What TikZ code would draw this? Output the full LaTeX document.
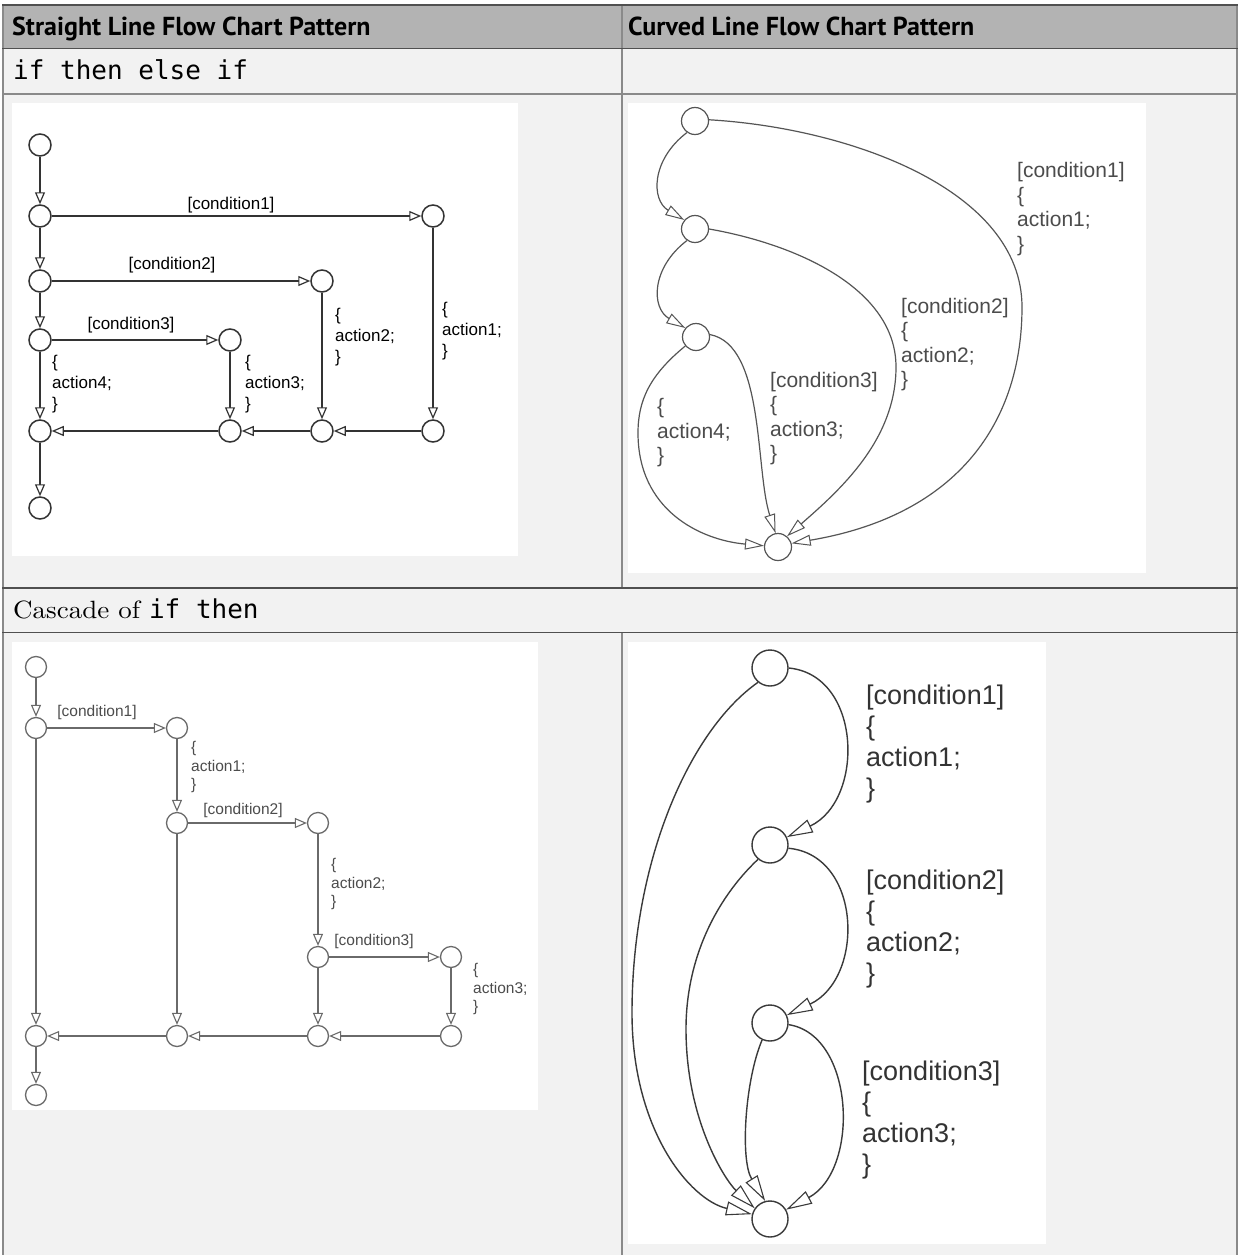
\documentclass[tikz,border=0pt]{standalone}
\usepackage{fontspec}
\newfontfamily\labfont{Liberation Sans}
\newfontfamily\hdrfont{PT Sans}
\newfontfamily\monofont{DejaVu Sans Mono}
\newfontfamily\widerm[Extension=.otf, FakeStretch=1.08]{lmroman10-regular}
\usetikzlibrary{arrows.meta}
\definecolor{hdrgray}{HTML}{B3B3B3}
\definecolor{rowgray}{HTML}{F2F2F2}
\definecolor{rulegray}{HTML}{8A8A8A}
\definecolor{ruledark}{HTML}{505050}
\definecolor{lineA}{HTML}{333333}
\definecolor{lineB}{HTML}{555555}
\definecolor{lineC}{HTML}{6A6A6A}
\definecolor{lineD}{HTML}{3A3A3A}
\begin{document}
\begin{tikzpicture}[x=1pt,y=-1pt,
  cA/.style={circle, draw=lineA, line width=1.5pt, minimum size=22pt, inner sep=0pt, fill=white},
  eA/.style={draw=lineA, line width=1.6pt, -{Triangle[length=12pt,width=10pt,fill=white,line width=1.2pt]}},
  cB/.style={circle, draw=lineB, line width=1.2pt, minimum size=27pt, inner sep=0pt, fill=white},
  eB/.style={draw=lineB, line width=1.2pt, -{Triangle[length=19pt,width=11pt,fill=white,line width=1pt]}},
  cC/.style={circle, draw=lineC, line width=1.3pt, minimum size=21pt, inner sep=0pt, fill=white},
  eC/.style={draw=lineC, line width=1.5pt, -{Triangle[length=12pt,width=10pt,fill=white,line width=1.1pt]}},
  cD/.style={circle, draw=lineD, line width=1.4pt, minimum size=36pt, inner sep=0pt, fill=white},
  eD/.style={draw=lineD, line width=1.4pt, -{Triangle[length=26pt,width=14pt,fill=white,line width=1.1pt]}},
  labA/.style={font=\labfont\fontsize{17}{21}\selectfont, text=black, inner sep=0pt, align=left},
  labB/.style={font=\labfont\fontsize{21}{24.5}\selectfont, text=black!70, inner sep=0pt, align=left},
  labC/.style={font=\labfont\fontsize{15.5}{18.5}\selectfont, text=black!70, inner sep=0pt, align=left},
  labD/.style={font=\labfont\fontsize{27}{31}\selectfont, text=black!80, inner sep=0pt, align=left},
  hdr/.style={font=\hdrfont\bfseries\fontsize{26}{30}\selectfont, text=black, inner sep=0pt, anchor=base west},
]
\useasboundingbox (0,0) rectangle (1238,1255);
\fill[white] (0,0) rectangle (1238,1255);
\fill[hdrgray] (2,5) rectangle (1238,49);
\fill[rowgray] (2,49) rectangle (1238,1255);
\fill[white] (12,103) rectangle (518,556);
\fill[white] (628,103) rectangle (1146,573);
\fill[white] (12,642) rectangle (538,1110);
\fill[white] (628,642) rectangle (1046,1244);
% table rules
\draw[rulegray, line width=2pt] (622,5) -- (622,588);
\draw[rulegray, line width=2pt] (622,633) -- (622,1255);
\draw[rulegray, line width=2pt] (2.5,5) -- (2.5,1255);
\draw[rulegray, line width=2pt] (1237,5) -- (1237,1255);
\draw[ruledark, line width=1.5pt] (2,5) -- (1238,5);
\draw[ruledark, line width=1pt] (2,49) -- (1238,49);
\draw[rulegray, line width=2pt] (2,93.5) -- (1238,93.5);
\draw[ruledark, line width=1.5pt] (2,588) -- (1238,588);
\draw[ruledark, line width=1.5pt] (2,632.5) -- (1238,632.5);
% texts of table
\node[hdr] (h1) at (12,35.5) {Straight Line Flow Chart Pattern};
\node[hdr] (h2) at (628,35.5) {Curved Line Flow Chart Pattern};
\node[anchor=base west, inner sep=0pt, font=\monofont\fontsize{26}{30}\selectfont] (t2) at (13,80) {if then else if};
\node[anchor=base west, inner sep=0pt, font=\widerm\fontsize{25}{30}\selectfont] (t4) at (13,618) {Cascade of {\monofont\fontsize{26}{30}\selectfont if then}};
% ---------- Panel A
\node[cA] (a0) at (40,145) {};
\node[cA] (a1) at (40,216) {};
\node[cA] (a2) at (40,281) {};
\node[cA] (a3) at (40,340) {};
\node[cA] (a4) at (40,431) {};
\node[cA] (a5) at (40,508) {};
\node[cA] (ar1) at (433,216) {};
\node[cA] (ar2) at (322,281) {};
\node[cA] (ar3) at (230,340) {};
\node[cA] (am3) at (230,431) {};
\node[cA] (am2) at (322,431) {};
\node[cA] (am1) at (433,431) {};
\draw[eA] (a0) -- (a1);
\draw[eA] (a1) -- (a2);
\draw[eA] (a2) -- (a3);
\draw[eA] (a3) -- (a4);
\draw[eA] (a4) -- (a5);
\draw[eA] (a1) -- (ar1);
\draw[eA] (a2) -- (ar2);
\draw[eA] (a3) -- (ar3);
\draw[eA] (ar1) -- (am1);
\draw[eA] (ar2) -- (am2);
\draw[eA] (ar3) -- (am3);
\draw[eA] (am1) -- (am2);
\draw[eA] (am2) -- (am3);
\draw[eA] (am3) -- (a4);
\node[labA] (lac1) at (231,205) {[condition1]};
\node[labA] (lac2) at (172,265) {[condition2]};
\node[labA] (lac3) at (131,325) {[condition3]};
\node[labA, anchor=west] (laa1) at (442,331) {\{\\action1;\\\}};
\node[labA, anchor=west] (laa2) at (335,337) {\{\\action2;\\\}};
\node[labA, anchor=west] (laa3) at (245,384) {\{\\action3;\\\}};
\node[labA, anchor=west] (laa4) at (52,384) {\{\\action4;\\\}};
% ---------- Panel B
\node[cB] (b1) at (695,121) {};
\node[cB] (b2) at (695,229) {};
\node[cB] (b3) at (696,337) {};
\node[cB] (b4) at (778,547) {};
\draw[eB] (b1.235) .. controls (651,160) and (651,200) .. (b2.140);
\draw[eB] (b2.235) .. controls (651,268) and (651,308) .. (b3.140);
\draw[eB] (b1.5) .. controls (850,128) and (1022,190) .. (1022,307) .. controls (1022,420) and (960,515) .. (b4.15);
\draw[eB] (b2.0) .. controls (800,245) and (896,290) .. (896,367) .. controls (896,440) and (840,490) .. (b4.50);
\draw[eB] (b3.10) .. controls (765,345) and (755,470) .. (b4.100);
\draw[eB] (b3.220) .. controls (650,375) and (638,400) .. (638,433) .. controls (638,510) and (700,540) .. (b4.175);
\node[labB, anchor=west] (lb1) at (1017,209) {[condition1]\\\{\\action1;\\\}};
\node[labB, anchor=west] (lb2) at (901,344.5) {[condition2]\\\{\\action2;\\\}};
\node[labB, anchor=west] (lb3) at (770,418.5) {[condition3]\\\{\\action3;\\\}};
\node[labB, anchor=west] (lb4) at (657,433) {\{\\action4;\\\}};
% ---------- Panel C
\node[cC] (c0) at (36,667) {};
\node[cC] (c1) at (36,728) {};
\node[cC] (ca1) at (177,728) {};
\node[cC] (c2) at (177,823) {};
\node[cC] (ca2) at (318,823) {};
\node[cC] (c3) at (318,957) {};
\node[cC] (ca3) at (451,957) {};
\node[cC] (cm0) at (36,1036) {};
\node[cC] (cm1) at (177,1036) {};
\node[cC] (cm2) at (318,1036) {};
\node[cC] (cm3) at (451,1036) {};
\node[cC] (cend) at (36,1095) {};
\draw[eC] (c0) -- (c1);
\draw[eC] (c1) -- (ca1);
\draw[eC] (ca1) -- (c2);
\draw[eC] (c2) -- (ca2);
\draw[eC] (ca2) -- (c3);
\draw[eC] (c3) -- (ca3);
\draw[eC] (ca3) -- (cm3);
\draw[eC] (c1) -- (cm0);
\draw[eC] (c2) -- (cm1);
\draw[eC] (c3) -- (cm2);
\draw[eC] (cm3) -- (cm2);
\draw[eC] (cm2) -- (cm1);
\draw[eC] (cm1) -- (cm0);
\draw[eC] (cm0) -- (cend);
\node[labC] (lcc1) at (97,712) {[condition1]};
\node[labC, anchor=west] (lca1) at (191,767) {\{\\action1;\\\}};
\node[labC] (lcc2) at (243,810) {[condition2]};
\node[labC, anchor=west] (lca2) at (331,884) {\{\\action2;\\\}};
\node[labC] (lcc3) at (374,941) {[condition3]};
\node[labC, anchor=west] (lca3) at (473,989) {\{\\action3;\\\}};
% ---------- Panel D
\node[cD] (d0) at (770,668) {};
\node[cD] (d1) at (770,845) {};
\node[cD] (d2) at (770,1023) {};
\node[cD] (d3) at (770,1219) {};
\draw[eD] (d0.0) .. controls (862,675) and (865,800) .. (d1.25);
\draw[eD] (d1.350) .. controls (862,855) and (865,978) .. (d2.25);
\draw[eD] (d2.355) .. controls (855,1035) and (860,1170) .. (d3.30);
\draw[eD] (d0.230) .. controls (690,730) and (632,860) .. (632,1013) .. controls (632,1130) and (690,1200) .. (d3.165);
\draw[eD] (d1.230) .. controls (715,900) and (686,960) .. (686,1029) .. controls (686,1120) and (725,1180) .. (d3.145);
\draw[eD] (d2.245) .. controls (745,1080) and (740,1160) .. (d3.105);
\node[labD, anchor=west] (ld1) at (866,744) {[condition1]\\\{\\action1;\\\}};
\node[labD, anchor=west] (ld2) at (866,929) {[condition2]\\\{\\action2;\\\}};
\node[labD, anchor=west] (ld3) at (862,1120.5) {[condition3]\\\{\\action3;\\\}};
\end{tikzpicture}
\end{document}
